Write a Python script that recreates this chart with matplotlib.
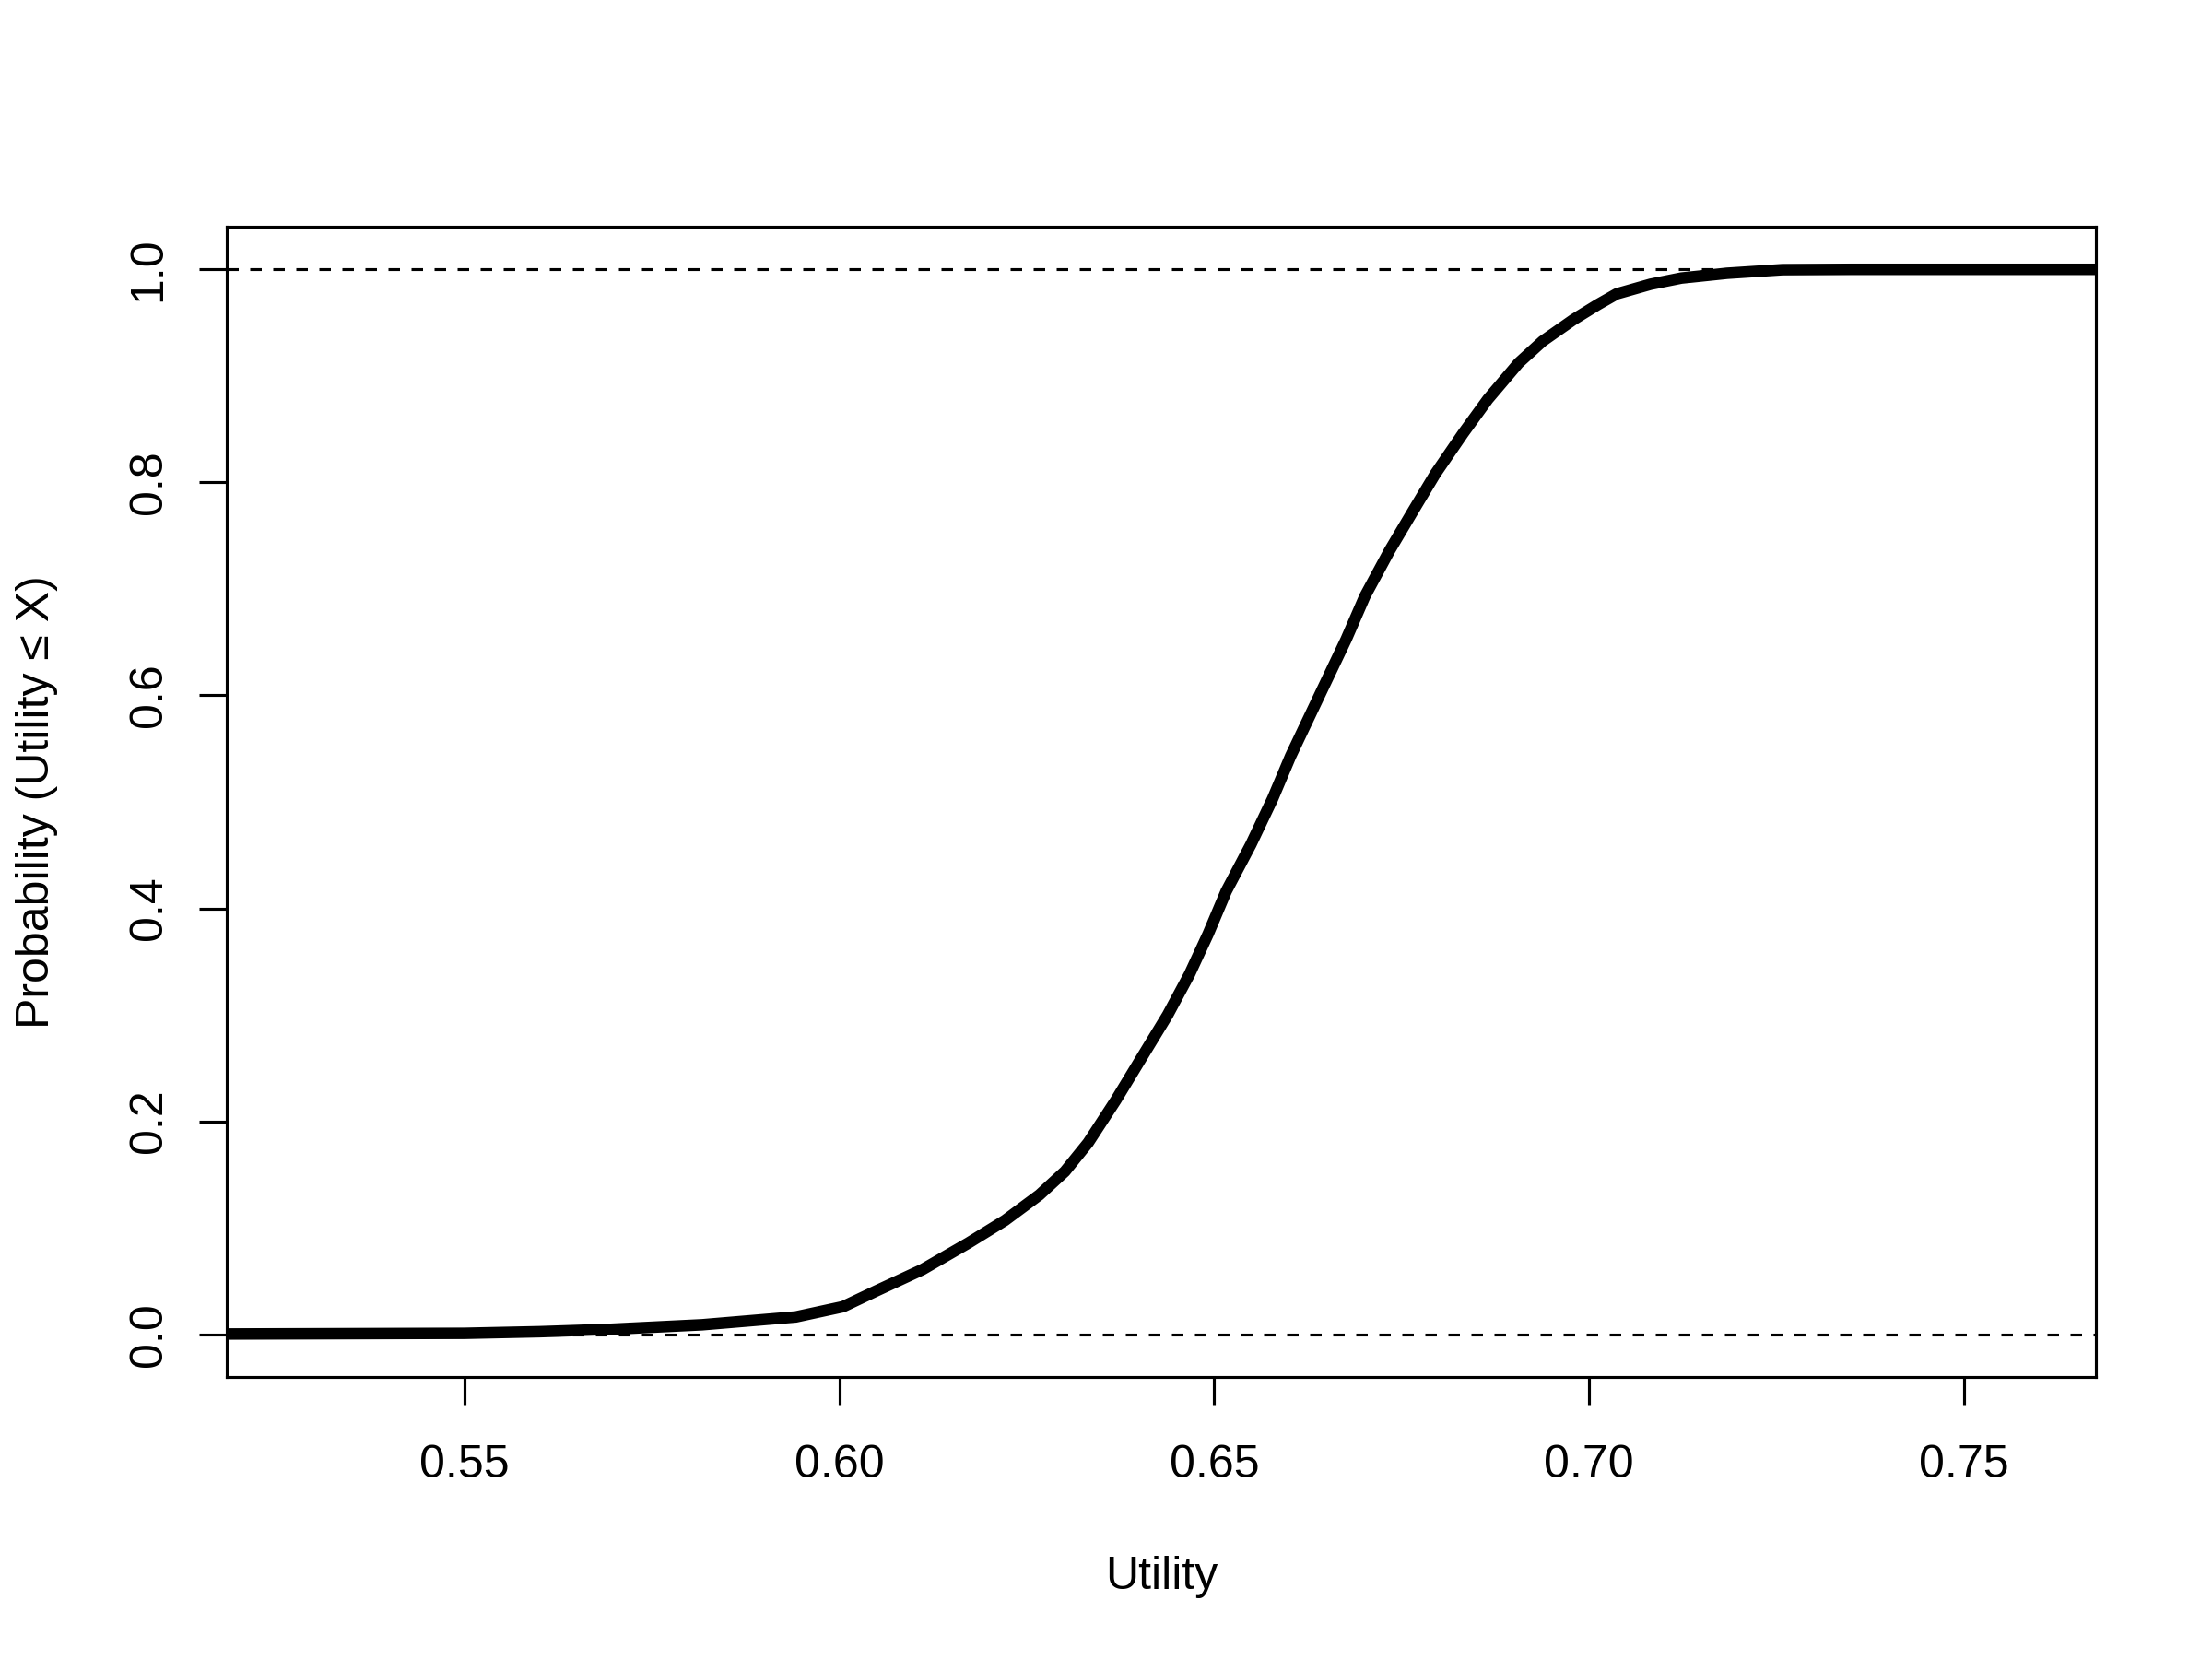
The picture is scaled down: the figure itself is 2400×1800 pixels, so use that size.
import numpy as np
import matplotlib
matplotlib.use("Agg")
import matplotlib.pyplot as plt

plt.rcParams['font.family'] = ['Liberation Sans', 'DejaVu Sans']

utility = [0.500, 0.550, 0.560, 0.569, 0.5817, 0.5942, 0.6005, 0.6049, 0.6111,
           0.6172, 0.6221, 0.6267, 0.6301, 0.6332, 0.6369, 0.6406, 0.6438,
           0.6467, 0.6492, 0.6516, 0.6549, 0.6578, 0.6602, 0.6627, 0.6652,
           0.6676, 0.6701, 0.6734, 0.6766, 0.6795, 0.6832, 0.6865, 0.6906,
           0.6938, 0.6979, 0.7012, 0.7037, 0.7082, 0.7123, 0.7184, 0.7258,
           0.7350, 0.800]
prob = [0.0, 0.001, 0.0025, 0.0046, 0.009, 0.0164, 0.026, 0.0407, 0.0609,
        0.0857, 0.107, 0.131, 0.153, 0.180, 0.220, 0.263, 0.300,
        0.338, 0.376, 0.416, 0.460, 0.503, 0.543, 0.580, 0.617,
        0.6525, 0.693, 0.736, 0.774, 0.808, 0.846, 0.878, 0.912,
        0.9325, 0.9527, 0.967, 0.977, 0.986, 0.9918, 0.9963, 0.9997,
        1.0, 1.0]

x_ticks = [0.55, 0.60, 0.65, 0.70, 0.75]
x_labels = ['0.55', '0.60', '0.65', '0.70', '0.75']
y_ticks = [0.0, 0.2, 0.4, 0.6, 0.8, 1.0]
y_labels = ['0.0', '0.2', '0.4', '0.6', '0.8', '1.0']

fig = plt.figure(figsize=(8, 6), dpi=300)
# R default margins: mar = c(5, 4, 4, 2) + 0.1 lines of 0.2 in
ax = fig.add_axes([0.82 / 8, 1.02 / 6, (8 - 0.82 - 0.42) / 8, (6 - 1.02 - 0.82) / 6])

# reference lines at 0 and 1 (R lty = 2)
for h in (0.0, 1.0):
    ax.axhline(h, color='black', lw=0.75, linestyle=(0, (4, 4)), zorder=1)

ax.plot(utility, prob, color='black', lw=3.0, solid_joinstyle='round', zorder=2)

ax.set_xlim(0.5183, 0.7676)
ax.set_ylim(-0.04, 1.04)

ax.set_xticks(x_ticks, x_labels, fontsize=12)
ax.set_yticks(y_ticks, y_labels, fontsize=12, rotation=90, va='center')
ax.tick_params(axis='both', direction='out', length=7.2, width=0.75, color='black')
ax.tick_params(axis='x', pad=10.3)
ax.tick_params(axis='y', pad=7.5)

for s in ax.spines.values():
    s.set_linewidth(0.75)

ax.set_xlabel('Utility', fontsize=12, va='baseline')
ax.xaxis.set_label_coords(0.5, -0.1844)
ax.set_ylabel('Probability (Utility \u2264 X)', fontsize=12, va='baseline')
ax.yaxis.set_label_coords(-0.0952, 0.5)

fig.savefig('out.png', dpi=300, facecolor='white')
